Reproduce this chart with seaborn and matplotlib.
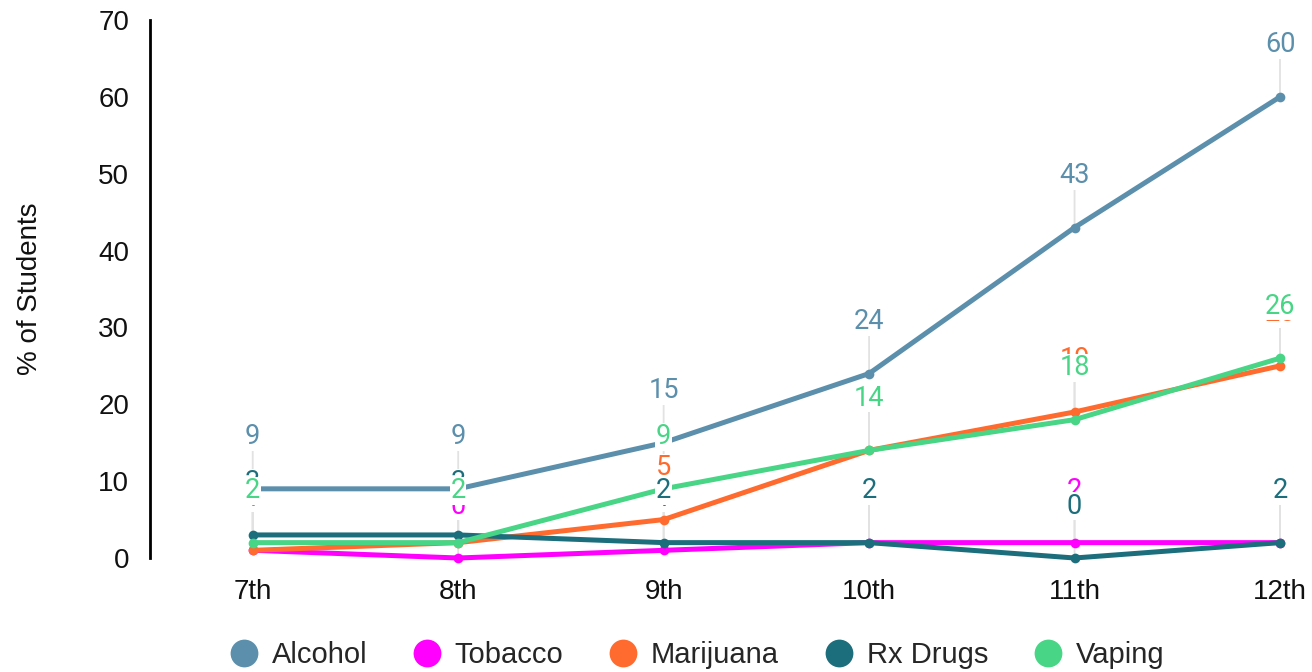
import matplotlib
matplotlib.use("Agg")
import matplotlib.pyplot as plt
from matplotlib.lines import Line2D
import seaborn as sns
import pandas as pd

# Grade levels and survey results (% of students)
grades = ["7th", "8th", "9th", "10th", "11th", "12th"]
substances = ["Alcohol", "Tobacco", "Marijuana", "Rx Drugs", "Vaping"]
alcohol = [9, 9, 15, 24, 43, 60]
tobacco = [1, 0, 1, 2, 2, 2]
marijuana = [1, 2, 5, 14, 19, 25]
rx_drugs = [3, 3, 2, 2, 0, 2]
vaping = [2, 2, 9, 14, 18, 26]
colors = ["#5B8FAC", "#FF00FF", "#FF6B2E", "#1C6E7C", "#48D585"]

series = [alcohol, tobacco, marijuana, rx_drugs, vaping]
rows = []
for name, vals in zip(substances, series):
    for i, (g, v) in enumerate(zip(grades, vals)):
        rows.append({"pos": i, "grade": g, "substance": name, "pct": v})
df = pd.DataFrame(rows)
palette = dict(zip(substances, colors))

sns.set_style("white")
plt.rcParams["font.family"] = ["Liberation Sans", "DejaVu Sans"]

fig = plt.figure(figsize=(13.12, 6.72), dpi=100)
ax = fig.add_axes([150 / 1312, 114 / 672, 1130 / 1312, 538 / 672])

sns.lineplot(data=df, x="pos", y="pct", hue="substance", hue_order=substances,
             palette=palette, marker="o", markersize=7, markeredgewidth=0,
             linewidth=3.6, legend=False, ax=ax, zorder=3, clip_on=False)

# Value labels with light leader lines above each point
for name, vals in zip(substances, series):
    c = palette[name]
    for i, v in enumerate(vals):
        ax.annotate("", xy=(i, v), xytext=(0, 40), textcoords="offset pixels",
                    arrowprops=dict(arrowstyle="-", color="#e2e2e2", lw=1.3,
                                    shrinkA=0, shrinkB=0),
                    zorder=1, annotation_clip=False)
        ax.annotate(str(v), xy=(i, v), xytext=(0, 52), textcoords="offset pixels",
                    ha="center", va="center", fontsize=19.5, color=c,
                    family="Roboto", zorder=6, annotation_clip=False,
                    bbox=dict(boxstyle="square,pad=0.02", fc="white", ec="none"))

ax.set_xlim(-0.5, 5)
ax.set_ylim(0, 70)
ax.set_yticks(range(0, 71, 10))
ax.set_xticks(range(len(grades)))
ax.set_xticklabels(grades)
ax.tick_params(axis="both", labelsize=20, length=0, colors="#111111")
ax.tick_params(axis="y", pad=15)
ax.tick_params(axis="x", pad=15)
ax.set_xlabel("")
ax.set_ylabel("% of Students", fontsize=20, labelpad=40, color="#111111")

for side in ["top", "right", "bottom"]:
    ax.spines[side].set_visible(False)
ax.spines["left"].set_color("#000000")
ax.spines["left"].set_linewidth(2)

handles = [Line2D([], [], marker="o", linestyle="", markersize=20,
                  markerfacecolor=palette[s], markeredgewidth=0) for s in substances]
fig.legend(handles, substances, loc="center", ncol=5, frameon=False,
           bbox_to_anchor=(696 / 1312, 1 - 655 / 672), fontsize=21,
           handletextpad=0.4, columnspacing=1.5, handlelength=1.1)

fig.savefig("out.png", dpi=100, facecolor="white")
